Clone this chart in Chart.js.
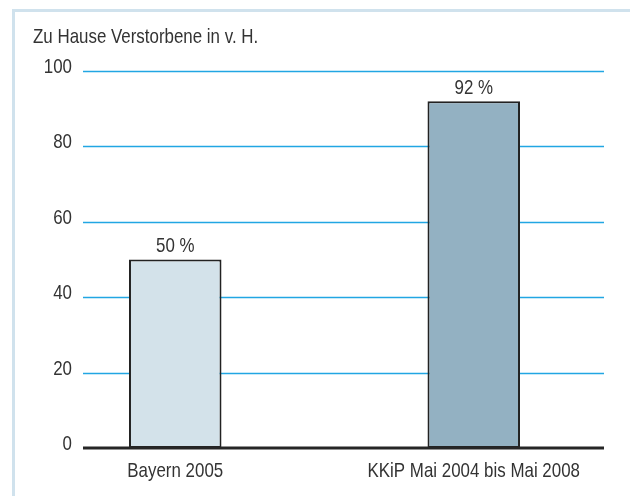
<!DOCTYPE html>
<html><head><meta charset="utf-8">
<script src="https://cdn.jsdelivr.net/npm/chart.js@4/dist/chart.umd.min.js"></script>
<style>
html,body{margin:0;padding:0;background:#fff;}
#wrap{position:relative;width:630px;height:496px;overflow:hidden;}
#frame{position:absolute;left:12px;top:9px;width:630px;height:500px;border-top:3px solid #d0e2ed;border-left:3px solid #d0e2ed;}
canvas{position:absolute;left:0;top:0;}
</style></head><body>
<div id="wrap"><div id="frame"></div><canvas id="c" width="630" height="496"></canvas></div>
<script>
const categories = ['Bayern 2005', 'KKiP Mai 2004 bis Mai 2008'];
const values = [50, 92];
const valueLabels = ['50 %', '92 %'];
const yTicks = [0, 20, 40, 60, 80, 100];
const yTitle = 'Zu Hause Verstorbene in v. H.';

const FONT = "'Liberation Sans', Arial, sans-serif";
const TEXT = '#333333';
const GRID = '#22a6e3';
const GRID_L = 83, GRID_R = 604;
const SQUEEZE = 0.805;

function txt(ctx, s, x, y, align) {
  ctx.save();
  ctx.translate(x, y);
  ctx.scale(SQUEEZE, 1);
  ctx.textAlign = align;
  ctx.textBaseline = 'alphabetic';
  ctx.fillText(s, 0, 0);
  ctx.restore();
}

const deco = {
  id: 'deco',
  beforeDatasetsDraw(chart) {
    const ctx = chart.ctx, y = chart.scales.y;
    ctx.save();
    ctx.strokeStyle = GRID; ctx.lineWidth = 1.3;
    y.ticks.forEach(t => {
      if (t.value === 0) return;
      const py = Math.round(y.getPixelForValue(t.value)) + 0.5;
      ctx.beginPath(); ctx.moveTo(GRID_L, py); ctx.lineTo(GRID_R, py); ctx.stroke();
    });
    ctx.restore();
  },
  afterDatasetsDraw(chart) {
    const ctx = chart.ctx, y = chart.scales.y, x = chart.scales.x;
    ctx.save();
    const py0 = Math.round(y.getPixelForValue(0));
    ctx.strokeStyle = '#262626'; ctx.lineWidth = 3;
    ctx.beginPath(); ctx.moveTo(GRID_L, py0); ctx.lineTo(GRID_R, py0); ctx.stroke();
    ctx.fillStyle = TEXT; ctx.font = '21px ' + FONT;
    chart.getDatasetMeta(0).data.forEach((bar, i) => {
      txt(ctx, valueLabels[i], bar.x, bar.y - 7.5, 'center');
    });
    y.ticks.forEach(t => {
      txt(ctx, String(t.value), 72, y.getPixelForValue(t.value) + 2, 'right');
    });
    categories.forEach((c, i) => {
      txt(ctx, c, x.getPixelForValue(i), 477, 'center');
    });
    txt(ctx, yTitle, 33, 43, 'left');
    ctx.restore();
  }
};

new Chart(document.getElementById('c'), {
  type: 'bar',
  data: {
    labels: categories,
    datasets: [{
      data: values,
      backgroundColor: ['#d3e2ea', '#93b1c2'],
      borderColor: '#222222',
      borderWidth: 2,
      borderSkipped: false,
      barPercentage: 0.31,
      categoryPercentage: 1
    }]
  },
  options: {
    responsive: false,
    devicePixelRatio: 1,
    animation: false,
    layout: { padding: { top: 71, right: 7, left: 0, bottom: 0 } },
    plugins: { legend: { display: false }, tooltip: { enabled: false }, title: { display: false } },
    scales: {
      x: {
        offset: true,
        grid: { display: false },
        border: { display: false },
        ticks: { display: false },
        afterFit: s => { s.height = 48; }
      },
      y: {
        min: 0, max: 100,
        grid: { display: false },
        border: { display: false },
        afterBuildTicks: s => { s.ticks = yTicks.map(v => ({ value: v })); },
        ticks: { display: false },
        afterFit: s => { s.width = 26; }
      }
    }
  },
  plugins: [deco]
});
</script>
</body></html>
